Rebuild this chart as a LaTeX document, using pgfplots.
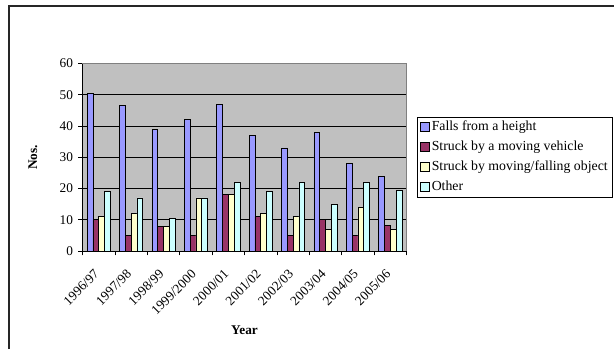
\documentclass[border=0pt]{standalone}
\usepackage{fontspec}
\setmainfont{Liberation Serif}
\usepackage{pgfplots}
\pgfplotsset{compat=1.18}
\definecolor{cfall}{HTML}{9999FF}
\definecolor{cveh}{HTML}{993366}
\definecolor{cobj}{HTML}{FFFFCC}
\definecolor{coth}{HTML}{CCFFFF}
\definecolor{cbg}{HTML}{C0C0C0}
\definecolor{cbord}{HTML}{808080}
\begin{document}
\fontsize{13.3}{16}\selectfont
\begin{tikzpicture}
\useasboundingbox (0pt,0pt) rectangle (614pt,349pt);
\draw[line width=1.2pt, color=black!85] (9pt,0pt) -- (9pt,343pt) -- (614pt,343pt);
\begin{axis}[
  at={(82.5pt,98pt)}, anchor=south west,
  scale only axis, width=324pt, height=187.5pt,
  xmin=-0.5, xmax=9.5, ymin=0, ymax=60,
  ybar=0pt, bar width=5.8pt,
  axis x line*=bottom, axis y line*=left,
  axis line style={black, line width=0.8pt, -},
  axis background/.style={fill=cbg, draw=cbord, line width=0.8pt},
  ymajorgrids, grid style={black, line width=0.6pt},
  ytick={0,10,...,60},
  tick align=outside, major tick length=4.3pt,
  tick style={black, line width=0.7pt},
  xtick={-0.5,0.5,...,9.5}, xticklabels={},
  extra x ticks={-0.06,0.94,1.94,2.94,3.94,4.94,5.94,6.94,7.94,8.94},
  extra x tick labels={1996/97,1997/98,1998/99,1999/2000,2000/01,2001/02,2002/03,2003/04,2004/05,2005/06},
  extra x tick style={major tick length=0pt, xticklabel style={rotate=45, anchor=east, inner sep=0pt}, xticklabel shift=21pt},
  /pgf/number format/assume math mode=true,
  yticklabel style={inner sep=0pt, xshift=-5pt},
  ylabel={\textbf{Nos.}}, xlabel={\textbf{Year}},
  every axis y label/.style={at={(axis description cs:-0.153,0.5)}, rotate=90, anchor=center},
  every axis x label/.style={at={(axis description cs:0.5,-0.421)}, anchor=center},
  legend style={at={(axis description cs:1.032,0.7147)}, anchor=north west, draw=black, fill=white, line width=0.6pt,
    font=\fontsize{13.8}{16}\selectfont,
    inner xsep=3pt, inner ysep=0pt, nodes={inner xsep=2pt, inner ysep=3pt, text height=10pt, text depth=4pt}},
  legend cell align=left,
  legend image code/.code={\draw[#1, draw=black, line width=0.6pt] (0pt,-4.5pt) rectangle (9pt,4.5pt);},
  after end axis/.code={\draw[cbord, line width=0.8pt] (rel axis cs:0,1)--(rel axis cs:1,1)--(rel axis cs:1,0);},
]
\addplot[fill=cfall, draw=black, line width=0.6pt] coordinates {(0,50.5) (1,46.5) (2,39) (3,42) (4,47) (5,37) (6,33) (7,38) (8,28) (9,24)};
\addplot[fill=cveh, draw=black, line width=0.6pt] coordinates {(0,10) (1,5) (2,8) (3,5) (4,18) (5,11) (6,5) (7,10) (8,5) (9,8.3)};
\addplot[fill=cobj, draw=black, line width=0.6pt] coordinates {(0,11) (1,12) (2,8) (3,17) (4,18) (5,12) (6,11) (7,7) (8,14) (9,7)};
\addplot[fill=coth, draw=black, line width=0.6pt] coordinates {(0,19) (1,17) (2,10.5) (3,17) (4,22) (5,19) (6,22) (7,15) (8,22) (9,19.5)};
\legend{Falls from a height, Struck by a moving vehicle, Struck by moving/falling object, Other}
\end{axis}
\end{tikzpicture}
\end{document}
